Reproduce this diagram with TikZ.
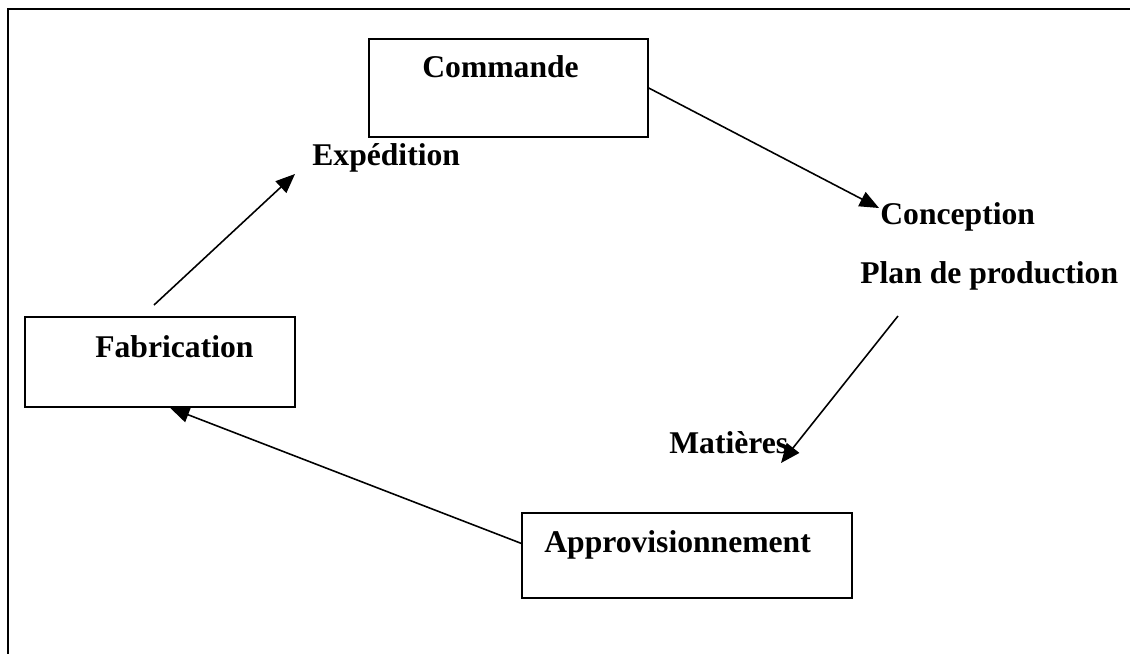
\documentclass[tikz,border=0pt]{standalone}
\usepackage{fontspec}
\setmainfont{Liberation Serif}
\usetikzlibrary{arrows.meta, positioning, calc}

\begin{document}
\begin{tikzpicture}[
  x=0.02cm, y=-0.02cm,
  box/.style={rectangle, draw, line width=0.9pt, inner sep=0pt},
  lbl/.style={anchor=base west, inner sep=0pt, font=\fontsize{18}{21}\selectfont\bfseries},
  arr/.style={-{Triangle[length=11pt, width=9pt]}, line width=0.9pt}
]
\useasboundingbox (0,0) rectangle (1130,653);
\draw[line width=1.4pt] (8,660) -- (8,9) -- (1140,9);

% boxes
\node[box, minimum width=5.58cm, minimum height=1.96cm] (cmd) at (508.5,88) {};
\node[box, minimum width=5.4cm, minimum height=1.8cm] (fab) at (160,362) {};
\node[box, minimum width=6.6cm, minimum height=1.7cm] (appro) at (687,555.5) {};

% texts
\node[lbl] (cmdtxt) at (422,77) {Commande};
\node[lbl] (fabtxt) at (95,357) {Fabrication};
\node[lbl] (approtxt) at (544,552) {Approvisionnement};
\node[lbl] (exped) at (312,165) {Expédition};
\node[lbl] (concep) at (880,224) {Conception};
\node[lbl] (plan) at (860,283) {Plan de production};
\node[lbl] (mat) at (669,453) {Matières};

% free ends
\coordinate (fabout) at (154,305);
\coordinate (expin) at (295,174);
\coordinate (conin) at (879,208);
\coordinate (planout) at (898,316);
\coordinate (matin) at (781,463);

\draw[arr] (cmd.east) -- (conin);
\draw[arr] (planout) -- (matin);
\draw[arr] ($(appro.north west)!0.36!(appro.south west)$) -- ($(fab.south west)!0.537!(fab.south east)$);
\draw[arr] (fabout) -- (expin);
\end{tikzpicture}
\end{document}
